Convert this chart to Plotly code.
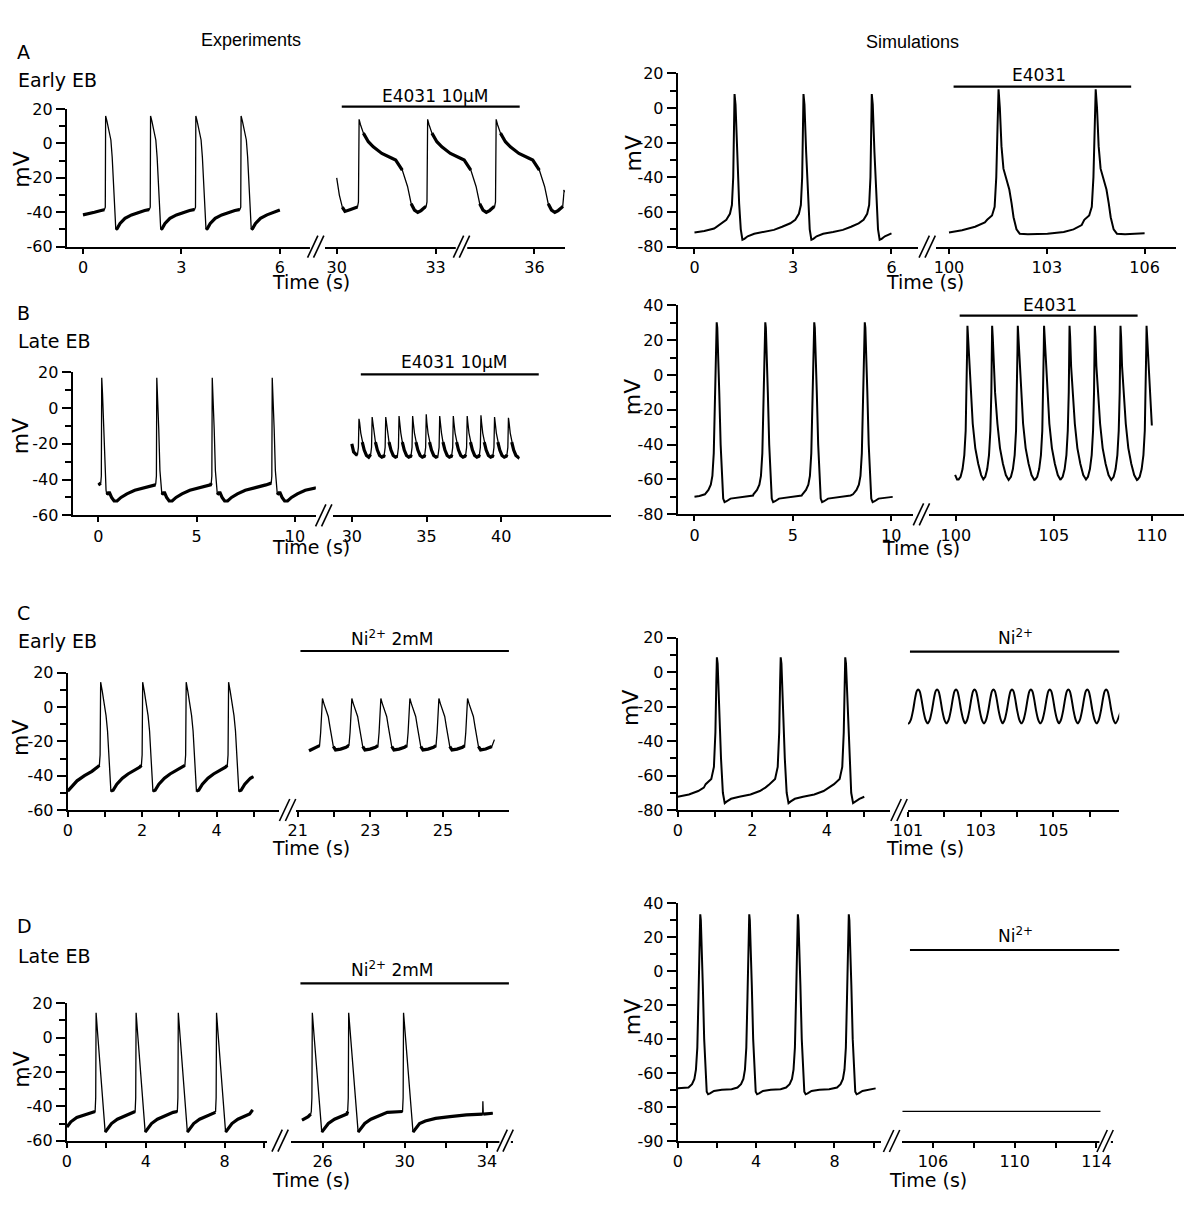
import plotly.graph_objects as go

# ---------------------------------------------------------------- data
# Each trace: start points (t, mV), beat times (s), one beat shape (time relative to beat, mV), end points.
A_EXP_CTRL_START = [(0.0, -41.5), (0.15, -41), (0.35, -40), (0.55, -39)]
A_EXP_CTRL_BEATS = [0.68, 2.05, 3.43, 4.81]
A_EXP_CTRL_SHAPE = [(-0.03, -38.5), (0.0, -37), (0.01, 16), (0.05, 13), (0.1, 8), (0.17, 2), (0.21, -8),
                    (0.26, -25), (0.32, -50), (0.36, -49.5), (0.45, -46.5), (0.6, -43.5), (0.8, -41.5),
                    (1.0, -40), (1.2, -39), (1.33, -38.5)]
A_EXP_CTRL_END = [(6.0, -38.7)]

A_EXP_DRUG_START = [(30.0, -20), (30.08, -30), (30.17, -37), (30.25, -39.5), (30.4, -38.5), (30.55, -37.5)]
A_EXP_DRUG_BEATS = [30.66, 32.74, 34.82]
A_EXP_DRUG_SHAPE = [(-0.03, -37), (0.0, -34), (0.02, 14), (0.06, 11), (0.15, 6), (0.3, 1), (0.45, -2),
                    (0.71, -5.8), (1.0, -8.5), (1.13, -9.7), (1.33, -15.5), (1.49, -25), (1.6, -35),
                    (1.7, -38.7), (1.8, -40), (1.9, -39), (2.02, -37)]
A_EXP_DRUG_END = [(36.86, -36.5), (36.9, -28), (36.93, -27.5)]

A_SIM_CTRL_START = [(0.0, -71.8), (0.3, -71), (0.6, -69.5)]
A_SIM_CTRL_BEATS = [1.22, 3.32, 5.40]
A_SIM_CTRL_SHAPE = [(-0.4, -66.5), (-0.25, -64.5), (-0.14, -61), (-0.08, -56), (-0.04, -40), (0.0, 8),
                    (0.03, 2), (0.08, -25), (0.14, -55), (0.19, -70), (0.24, -76), (0.3, -75.5),
                    (0.4, -74), (0.6, -72.5), (0.9, -71.5), (1.2, -70.3), (1.45, -68.5), (1.62, -67)]
A_SIM_CTRL_END = [(6.0, -72.3)]

A_SIM_DRUG_START = [(100.0, -71.8), (100.4, -70.5), (100.8, -68.5), (101.1, -66)]
A_SIM_DRUG_BEATS = [101.52, 104.5]
A_SIM_DRUG_SHAPE = [(-0.35, -64.5), (-0.2, -62), (-0.12, -57), (-0.07, -40), (-0.03, -10), (0.0, 10.8),
                    (0.04, 0), (0.09, -22), (0.15, -35), (0.24, -41), (0.33, -47), (0.4, -55),
                    (0.46, -63), (0.55, -70), (0.65, -72.5), (0.9, -72.8), (1.5, -72.5), (2.0, -71.5),
                    (2.3, -70), (2.55, -67.5)]
A_SIM_DRUG_END = [(106.0, -72.3)]

B_EXP_CTRL_START = [(0.0, -43), (0.08, -42)]
B_EXP_CTRL_BEATS = [0.15, 2.95, 5.77, 8.82]
B_EXP_CTRL_SHAPE = [(-0.03, -42), (0.0, -38), (0.02, 17), (0.06, 8), (0.12, -12), (0.18, -35), (0.24, -46),
                    (0.28, -48.5), (0.35, -47.5), (0.42, -47.5), (0.52, -50), (0.65, -52), (0.8, -52),
                    (1.0, -50), (1.3, -48), (1.7, -46), (2.1, -45), (2.5, -44), (2.75, -43)]
B_EXP_CTRL_END = [(11.4, -42.5)]

B_EXP_DRUG_START = [(30.0, -20), (30.12, -24.5), (30.3, -26)]
B_EXP_DRUG_BEATS = [30.48, 31.36, 32.27, 33.16, 34.07, 34.98, 35.88, 36.79, 37.72, 38.64, 39.55, 40.48]
B_EXP_DRUG_PEAKS = [-6, -5, -5, -4.5, -4.5, -3.5, -4.5, -4.5, -4.5, -4, -5, -5.5]
B_EXP_DRUG_SHAPE = [(-0.1, -26), (-0.04, -22), (0.0, -5), (0.04, -8), (0.12, -14), (0.22, -19),
                    (0.35, -23.5), (0.5, -26.5), (0.65, -27.5), (0.78, -27), (0.85, -26)]
B_EXP_DRUG_END = [(41.16, -27)]

B_SIM_CTRL_START = [(0.0, -69.9), (0.25, -69.5)]
B_SIM_CTRL_BEATS = [1.13, 3.6, 6.09, 8.66]
B_SIM_CTRL_SHAPE = [(-0.6, -68.5), (-0.42, -66), (-0.3, -63), (-0.22, -58), (-0.15, -45), (-0.09, -15),
                    (-0.05, 10), (-0.02, 26), (0.0, 30.2), (0.03, 27), (0.07, 15), (0.13, -10),
                    (0.2, -40), (0.27, -62), (0.33, -71), (0.4, -73), (0.5, -72.5), (0.7, -71),
                    (1.1, -70.3), (1.6, -69.8), (1.85, -69.2)]
B_SIM_CTRL_END = [(10.08, -70)]

B_SIM_DRUG_START = [(99.96, -57.4), (100.06, -60)]
B_SIM_DRUG_BEATS = [100.59, 101.85, 103.16, 104.5, 105.8, 107.09, 108.4, 109.73]
B_SIM_DRUG_SHAPE = [(-0.45, -60), (-0.35, -58.5), (-0.25, -54), (-0.16, -46), (-0.09, -32), (-0.04, -10),
                    (-0.015, 15), (0.0, 28.3), (0.03, 22), (0.08, 5), (0.15, -10), (0.27, -28),
                    (0.4, -42), (0.55, -51), (0.7, -57.5), (0.84, -60.3)]
B_SIM_DRUG_END = [(110.0, -29)]

C_EXP_CTRL_START = [(0.0, -49), (0.1, -46.5), (0.25, -43), (0.45, -40), (0.65, -37.5), (0.8, -35)]
C_EXP_CTRL_BEATS = [0.87, 2.0, 3.17, 4.31]
C_EXP_CTRL_SHAPE = [(-0.02, -34), (0.0, -28), (0.015, 14.5), (0.06, 9), (0.12, 2), (0.16, -5), (0.2, -14),
                    (0.24, -30), (0.29, -49), (0.35, -48.5), (0.45, -45), (0.6, -41.5), (0.75, -39),
                    (0.92, -37), (1.07, -35)]
C_EXP_CTRL_END = [(4.99, -40.5)]

C_EXP_DRUG_START = [(21.31, -25.5), (21.45, -24), (21.55, -23)]
C_EXP_DRUG_BEATS = [21.68, 22.49, 23.29, 24.09, 24.89, 25.68]
C_EXP_DRUG_SHAPE = [(-0.08, -22.5), (-0.05, -15), (-0.02, -2), (0.0, 5), (0.04, 2), (0.1, -1.5),
                    (0.16, -5.5), (0.21, -12), (0.26, -19), (0.3, -23), (0.36, -25), (0.5, -24.5),
                    (0.65, -23.5), (0.72, -22.5)]
C_EXP_DRUG_END = [(26.35, -23), (26.42, -19)]

C_SIM_CTRL_START = [(0.0, -72.3), (0.3, -71), (0.55, -69), (0.7, -67)]
C_SIM_CTRL_BEATS = [1.05, 2.76, 4.49]
C_SIM_CTRL_SHAPE = [(-0.3, -65), (-0.15, -62), (-0.08, -55), (-0.04, -35), (-0.015, -5), (0.0, 8.6),
                    (0.02, 5), (0.06, -20), (0.11, -50), (0.16, -70), (0.21, -76), (0.27, -75),
                    (0.38, -73.5), (0.6, -72.3), (0.9, -71), (1.15, -69), (1.3, -67)]
C_SIM_CTRL_END = [(5.0, -72.3)]

C_SIM_DRUG_START = [(101.0, -29.7)]
C_SIM_DRUG_BEATS = [101.28, 101.8, 102.32, 102.83, 103.35, 103.86, 104.38, 104.9, 105.41, 105.93, 106.45]
C_SIM_DRUG_SHAPE = [(-0.26, -29.7), (-0.2, -27.5), (-0.14, -22), (-0.08, -14.5), (-0.04, -11), (0.0, -10),
                    (0.04, -11), (0.08, -14.5), (0.14, -22), (0.2, -27.5)]
C_SIM_DRUG_END = [(106.71, -29.7), (106.84, -23.5)]

D_EXP_CTRL_START = [(0.0, -52), (0.2, -49), (0.5, -46.5), (0.9, -45), (1.3, -43.5)]
D_EXP_CTRL_BEATS = [1.46, 3.49, 5.63, 7.57]
D_EXP_CTRL_SHAPE = [(-0.03, -43), (0.0, -35), (0.02, 14.5), (0.1, 2), (0.18, -10), (0.24, -21), (0.32, -33),
                    (0.4, -45), (0.48, -55), (0.6, -53), (0.8, -50), (1.1, -47.5), (1.4, -46),
                    (1.7, -44.5), (1.9, -43.5)]
D_EXP_CTRL_END = [(9.42, -42)]

D_EXP_DRUG_START = [(25.0, -48), (25.15, -47), (25.3, -46), (25.42, -44.5)]
D_EXP_DRUG_BEATS = [25.48, 27.25, 29.92]
D_EXP_DRUG_SHAPE = D_EXP_CTRL_SHAPE
D_EXP_DRUG_END = [(31.0, -48.5), (31.5, -47), (32.2, -46), (33.0, -45), (33.79, -44.5), (33.8, -37),
                  (33.82, -44.5), (34.28, -44)]

D_SIM_CTRL_START = [(0.0, -69), (0.3, -68.8)]
D_SIM_CTRL_BEATS = [1.15, 3.65, 6.13, 8.73]
D_SIM_CTRL_SHAPE = [(-0.6, -68.5), (-0.42, -66.5), (-0.3, -63.5), (-0.22, -58), (-0.15, -45), (-0.09, -15),
                    (-0.05, 12), (-0.02, 29), (0.0, 33.5), (0.03, 30), (0.07, 18), (0.13, -8), (0.2, -40),
                    (0.27, -62), (0.33, -71), (0.4, -72.5), (0.5, -72), (0.7, -70.5), (1.1, -69.8),
                    (1.6, -69.5), (1.85, -69)]
D_SIM_CTRL_END = [(10.1, -69)]

D_SIM_DRUG_T = [104.5, 114.2]
D_SIM_DRUG_V = [-82.5, -82.5]

# tick values / labels
Y_TICKS_EXP = [-60, -40, -20, 0, 20]
Y_TICKS_SIM_A = [-80, -60, -40, -20, 0, 20]
Y_TICKS_SIM_B = [-80, -60, -40, -20, 0, 20, 40]
Y_TICKS_SIM_D = [-100, -80, -60, -40, -20, 0, 20, 40]
Y_TEXT_SIM_D = ["-90", "-80", "-60", "-40", "-20", "0", "20", "40"]

X_TICKS = {
    "A_exp": ([0, 3, 6], [0, 3, 6], [30, 33, 36], [30, 33, 36]),
    "A_sim": ([0, 3, 6], [0, 3, 6], [100, 103, 106], [100, 103, 106]),
    "B_exp": ([0, 5, 10], [0, 5, 10], [30, 35, 40], [30, 35, 40]),
    "B_sim": ([0, 5, 10], [0, 5, 10], [100, 105, 110], [100, 105, 110]),
    "C_exp": ([0, 1, 2, 3, 4, 5], [0, 2, 4], [21, 22, 23, 24, 25, 26], [21, 23, 25]),
    "C_sim": ([0, 1, 2, 3, 4, 5], [0, 2, 4], [101, 102, 103, 104, 105, 106], [101, 103, 105]),
    "D_exp": ([0, 2, 4, 6, 8, 10], [0, 4, 8], [26, 28, 30, 32, 34], [26, 30, 34]),
    "D_sim": ([0, 2, 4, 6, 8, 10], [0, 4, 8], [106, 108, 110, 112, 114], [106, 110, 114]),
}

# ---------------------------------------------------------------- geometry helpers
PAGE_MARGIN = 8                     # default <body> margin of the written page
W, H = 1200 - 2 * PAGE_MARGIN, 1209 - 2 * PAGE_MARGIN
XSCALE = 1.148                      # horizontal calibration of the measured pixel positions

def corr(x):
    return x * XSCALE if x < 600 else 600 + (x - 600) * XSCALE

def px(x): return (corr(x) - PAGE_MARGIN) / W
def py(y): return 1 - (y - PAGE_MARGIN) / H

def build(start, beats, shape, end, peaks=None):
    pts = list(start)
    first_rel = shape[0][0]
    for i, b in enumerate(beats):
        limit = beats[i + 1] + first_rel if i + 1 < len(beats) else end[0][0]
        for rt, v in shape:
            t = b + rt
            if rt == 0 and peaks is not None:
                v = peaks[i]
            if t <= pts[-1][0] or t >= limit:
                continue
            pts.append((t, v))
    for t, v in end:
        if t > pts[-1][0]:
            pts.append((t, v))
    return [p[0] for p in pts], [p[1] for p in pts]

def flat_parts(t, v, max_slope):
    """Copy of a trace keeping only its slow (diastolic/plateau) parts, for the thick noisy band."""
    xs, ys = [], []
    for i in range(len(t) - 1):
        slope = abs(v[i + 1] - v[i]) / max(t[i + 1] - t[i], 1e-9)
        if slope <= max_slope:
            if xs and xs[-1] is not None and xs[-1] == t[i]:
                xs.append(t[i + 1]); ys.append(v[i + 1])
            else:
                xs += [None, t[i], t[i + 1]]; ys += [None, v[i], v[i + 1]]
    return xs, ys

FONT = "DejaVu Sans, sans-serif"

# panel geometry in measured pixels: y domain (bottom, top), y range, seg (d0, d1, t_ref, p_ref, px/s), breaks
PANELS = [
    ("A_exp", (246.7, 109), (-60, 20), (58.3, 272, 0, 72.3, 28.57), (283, 492, 30, 293.3, 28.7), [275, 402]),
    ("A_sim", (246.7, 73.3), (-80, 20), (667.7, 877, 0, 682.3, 28.6), (893, 1101.7, 100, 904, 28.4), [885]),
    ("B_exp", (515.3, 372.3), (-60, 20), (63.3, 275, 0, 85.7, 17.13), (290, 610, 30, 311.7, 17.17), [282]),
    ("B_sim", (514.3, 305.3), (-80, 40), (667.7, 873, 0, 682.3, 17.13), (887, 1108.3, 100, 910, 17.07), [880]),
    ("C_exp", (810, 672.7), (-60, 20), (59, 243, 0, 59, 32.4), (258, 443.3, 22, 291, 31.6), [250.5]),
    ("C_sim", (810, 637.7), (-80, 20), (667.7, 853, 0, 667.7, 32.5), (868, 1052.3, 101, 868.3, 31.67), [860.5]),
    ("D_exp", (1140.7, 1003.3), (-60, 20), (58.3, 233, 0, 58.3, 17.17), (253.3, 446.7, 26, 281, 17.9), [244, 440]),
    ("D_sim", (1141, 903.3), (-100, 40), (667.7, 845, 0, 667.7, 17.07), (863.3, 1046.7, 106, 890, 17.8), [854, 1040]),
]
Y_TICKS = {"A_exp": (Y_TICKS_EXP, None), "A_sim": (Y_TICKS_SIM_A, None), "B_exp": (Y_TICKS_EXP, None),
           "B_sim": (Y_TICKS_SIM_B, None), "C_exp": (Y_TICKS_EXP, None), "C_sim": (Y_TICKS_SIM_A, None),
           "D_exp": (Y_TICKS_EXP, None), "D_sim": (Y_TICKS_SIM_D, Y_TEXT_SIM_D)}

TRACES = {
    "A_exp": (build(A_EXP_CTRL_START, A_EXP_CTRL_BEATS, A_EXP_CTRL_SHAPE, A_EXP_CTRL_END),
              build(A_EXP_DRUG_START, A_EXP_DRUG_BEATS, A_EXP_DRUG_SHAPE, A_EXP_DRUG_END)),
    "A_sim": (build(A_SIM_CTRL_START, A_SIM_CTRL_BEATS, A_SIM_CTRL_SHAPE, A_SIM_CTRL_END),
              build(A_SIM_DRUG_START, A_SIM_DRUG_BEATS, A_SIM_DRUG_SHAPE, A_SIM_DRUG_END)),
    "B_exp": (build(B_EXP_CTRL_START, B_EXP_CTRL_BEATS, B_EXP_CTRL_SHAPE, B_EXP_CTRL_END),
              build(B_EXP_DRUG_START, B_EXP_DRUG_BEATS, B_EXP_DRUG_SHAPE, B_EXP_DRUG_END, B_EXP_DRUG_PEAKS)),
    "B_sim": (build(B_SIM_CTRL_START, B_SIM_CTRL_BEATS, B_SIM_CTRL_SHAPE, B_SIM_CTRL_END),
              build(B_SIM_DRUG_START, B_SIM_DRUG_BEATS, B_SIM_DRUG_SHAPE, B_SIM_DRUG_END)),
    "C_exp": (build(C_EXP_CTRL_START, C_EXP_CTRL_BEATS, C_EXP_CTRL_SHAPE, C_EXP_CTRL_END),
              build(C_EXP_DRUG_START, C_EXP_DRUG_BEATS, C_EXP_DRUG_SHAPE, C_EXP_DRUG_END)),
    "C_sim": (build(C_SIM_CTRL_START, C_SIM_CTRL_BEATS, C_SIM_CTRL_SHAPE, C_SIM_CTRL_END),
              build(C_SIM_DRUG_START, C_SIM_DRUG_BEATS, C_SIM_DRUG_SHAPE, C_SIM_DRUG_END)),
    "D_exp": (build(D_EXP_CTRL_START, D_EXP_CTRL_BEATS, D_EXP_CTRL_SHAPE, D_EXP_CTRL_END),
              build(D_EXP_DRUG_START, D_EXP_DRUG_BEATS, D_EXP_DRUG_SHAPE, D_EXP_DRUG_END)),
    "D_sim": (build(D_SIM_CTRL_START, D_SIM_CTRL_BEATS, D_SIM_CTRL_SHAPE, D_SIM_CTRL_END),
              (D_SIM_DRUG_T, D_SIM_DRUG_V)),
}

fig = go.Figure()
layout = {}
shapes = []

def seg_range(seg):
    d0, d1, tref, pref, s = seg
    return [tref + (d0 - pref) / s, tref + (d1 - pref) / s]

for i, (name, ydom, yr, seg1, seg2, breaks) in enumerate(PANELS):
    xa, xb, ya = 2 * i + 1, 2 * i + 2, i + 1
    yvals, ytext = Y_TICKS[name]
    if ytext is None:
        ytext = [str(v) for v in yvals]
    layout[f"yaxis{ya}"] = dict(
        domain=[py(ydom[0]), py(ydom[1])], range=list(yr), anchor=f"x{xa}", automargin=False,
        showline=True, linecolor="black", linewidth=2, showgrid=False, zeroline=False,
        ticks="outside", ticklen=9, tickwidth=1.5, tickcolor="black",
        tickmode="array", tickvals=yvals, ticktext=ytext,
        tickfont=dict(family=FONT, size=16, color="black"),
        minor=dict(tickmode="linear", tick0=0, dtick=10, ticks="outside", ticklen=6,
                   tickwidth=1.5, tickcolor="black"),
        fixedrange=True)
    t1, l1, t2, l2 = X_TICKS[name]
    for ax, seg, tv, tl in ((xa, seg1, t1, l1), (xb, seg2, t2, l2)):
        layout[f"xaxis{ax}"] = dict(
            domain=[px(seg[0]), px(seg[1])], range=seg_range(seg), anchor=f"y{ya}", automargin=False,
            showline=True, linecolor="black", linewidth=2, showgrid=False, zeroline=False,
            ticks="outside", ticklen=5, tickwidth=1.5, tickcolor="black",
            tickmode="array", tickvals=tv, ticktext=[str(v) if v in tl else "" for v in tv],
            tickfont=dict(family=FONT, size=16, color="black"), fixedrange=True)
    (c_t, c_v), (d_t, d_v) = TRACES[name]
    exp = name.endswith("exp")
    for ax, (tt, vv) in ((xa, (c_t, c_v)), (xb, (d_t, d_v))):
        if exp:
            fig.add_trace(go.Scatter(x=tt, y=vv, xaxis=f"x{ax}", yaxis=f"y{ya}", mode="lines",
                                     line=dict(color="black", width=1.3), showlegend=False, hoverinfo="skip"))
            ft, fv = flat_parts(tt, vv, 45)
            fig.add_trace(go.Scatter(x=ft, y=fv, xaxis=f"x{ax}", yaxis=f"y{ya}", mode="lines",
                                     line=dict(color="black", width=3.2), showlegend=False,
                                     hoverinfo="skip", connectgaps=False))
        else:
            spline = name == "C_sim" and ax == xb
            width = 1.3 if (name == "D_sim" and ax == xb) else 2.0
            fig.add_trace(go.Scatter(x=tt, y=vv, xaxis=f"x{ax}", yaxis=f"y{ya}", mode="lines",
                                     line=dict(color="black", width=width,
                                               shape="spline" if spline else "linear", smoothing=0.8),
                                     showlegend=False, hoverinfo="skip"))
    # axis-break marks
    yb = ydom[0]
    for bx in breaks:
        shapes.append(dict(type="rect", xref="paper", yref="paper", x0=px(bx - 5), x1=px(bx + 5),
                           y0=py(yb + 3), y1=py(yb - 3), fillcolor="white", line=dict(width=0)))
        for off in (-2.6, 2.6):
            shapes.append(dict(type="line", xref="paper", yref="paper",
                               x0=px(bx + off - 4.5), y0=py(yb + 11), x1=px(bx + off + 4.5), y1=py(yb - 11),
                               line=dict(color="black", width=1.6)))

fig.update_layout(**layout)

annotations = []
def txt(x, y, s, size, family=FONT, xanchor="center", angle=0):
    annotations.append(dict(x=px(x), y=py(y), xref="paper", yref="paper", text=s, showarrow=False,
                            xanchor=xanchor, yanchor="middle", textangle=angle,
                            font=dict(family=family, size=size, color="black")))

txt(219, 40, "Experiments", 18, family="Liberation Sans, Arial, sans-serif")
txt(872, 42, "Simulations", 18, family="Liberation Sans, Arial, sans-serif")
for lab, y in (("A", 52), ("B", 313), ("C", 613), ("D", 926)):
    txt(13, y, lab, 19, xanchor="left")
for lab, y in (("Early EB", 80), ("Late EB", 341), ("Early EB", 641), ("Late EB", 956)):
    txt(14, y, lab, 19, xanchor="left")

# drug bars + labels
BARS = [((297.7, 452.7), 106.7, (379, 95.7), "E4031 10µM"),
        ((908, 1062.7), 86.7, (982.7, 75), "E4031"),
        ((314.3, 469.3), 374.3, (396, 361.7), "E4031 10µM"),
        ((913.3, 1068.3), 315.7, (991.7, 305), "E4031"),
        ((261.7, 443.3), 651, (341.7, 638.3), "Ni<sup>2+</sup> 2mM"),
        ((870, 1052.3), 651.7, (961.7, 637.3), "Ni<sup>2+</sup>"),
        ((261.7, 443.3), 983.3, (341.7, 969.3), "Ni<sup>2+</sup> 2mM"),
        ((870, 1052.3), 950, (961.7, 935), "Ni<sup>2+</sup>")]
for (x0, x1), yb, (tx, ty), lab in BARS:
    shapes.append(dict(type="line", xref="paper", yref="paper", x0=px(x0), x1=px(x1), y0=py(yb), y1=py(yb),
                       line=dict(color="black", width=2.2)))
    txt(tx, ty, lab, 17)

for x, y in ((270.7, 282), (882.7, 282), (270.7, 547), (880, 548), (270.7, 848), (882.7, 848),
             (270.7, 1180), (886, 1180)):
    txt(x, y, "Time (s)", 19)
for x, y in ((18, 170), (630, 153), (18, 436.7), (628.3, 396.7), (18, 738.3), (626.7, 708.3),
             (18, 1070), (628.3, 1016.7)):
    txt(x, y, "mV", 22, angle=-90)

fig.update_layout(width=W, height=H, margin=dict(l=0, r=0, t=0, b=0, pad=0, autoexpand=False),
                  paper_bgcolor="white", plot_bgcolor="white", shapes=shapes, annotations=annotations,
                  showlegend=False)
fig.write_html("out.html")
